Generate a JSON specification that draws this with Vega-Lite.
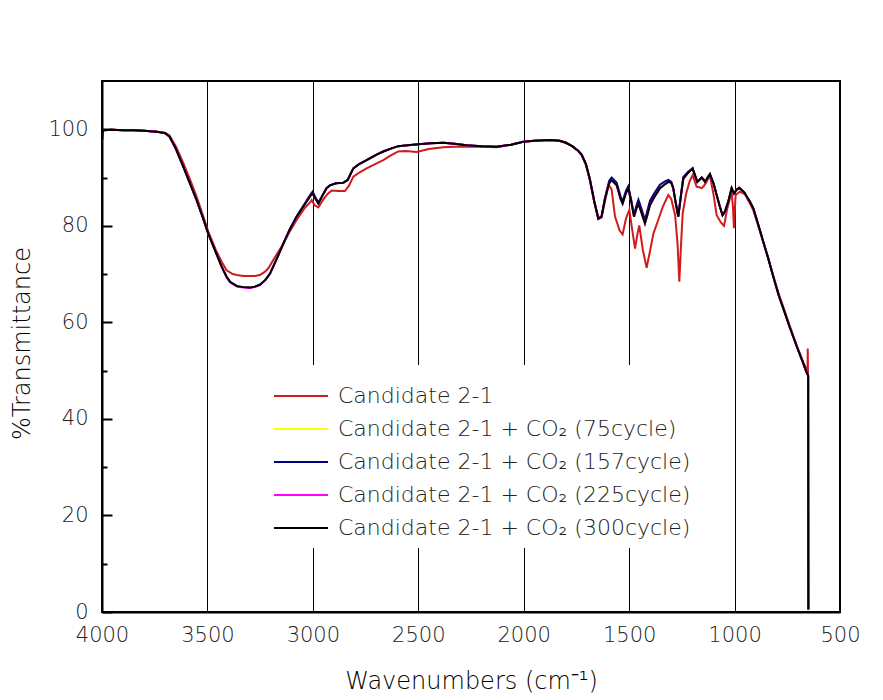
{
"$schema": "https://vega.github.io/schema/vega-lite/v6.json",
"width": 738, "height": 531,
"autosize": "none",
"padding": {"left": 102, "top": 81, "right": 43, "bottom": 88},
"background": "white",
"config": {"view": {"stroke": "black", "strokeWidth": 2}, "font": "DejaVu Sans"},
"data": {"values": [
{"w":4000,"a":97.5},{"w":3996,"a":99.8},{"w":3950,"a":99.9},{"w":3900,"a":99.8},{"w":3850,"a":99.8},{"w":3800,"a":99.7},{"w":3772,"a":99.6},{"w":3740,"a":99.5},{"w":3701,"a":99.3},{"w":3680,"a":98.7},{"w":3650,"a":96.5},{"w":3614,"a":93.0},{"w":3580,"a":89.3},{"w":3551,"a":86.0},{"w":3520,"a":82.0},{"w":3496,"a":78.8},{"w":3460,"a":75.0},{"w":3432,"a":72.5},{"w":3409,"a":70.8},{"w":3380,"a":70.0},{"w":3361,"a":69.8},{"w":3330,"a":69.6},{"w":3298,"a":69.6},{"w":3275,"a":69.6},{"w":3251,"a":69.8},{"w":3230,"a":70.4},{"w":3211,"a":71.2},{"w":3180,"a":73.5},{"w":3140,"a":76.3},{"w":3110,"a":78.8},{"w":3077,"a":81.2},{"w":3040,"a":83.6},{"w":3010,"a":85.0},{"w":3006,"a":85.3},{"w":2990,"a":84.2},{"w":2974,"a":83.8},{"w":2950,"a":85.5},{"w":2930,"a":86.6},{"w":2911,"a":87.3},{"w":2880,"a":87.2},{"w":2848,"a":87.2},{"w":2830,"a":88.2},{"w":2808,"a":90.2},{"w":2780,"a":91.0},{"w":2745,"a":91.9},{"w":2700,"a":92.9},{"w":2666,"a":93.6},{"w":2630,"a":94.6},{"w":2595,"a":95.4},{"w":2560,"a":95.5},{"w":2508,"a":95.3},{"w":2450,"a":95.9},{"w":2381,"a":96.3},{"w":2330,"a":96.4},{"w":2270,"a":96.4},{"w":2200,"a":96.4},{"w":2128,"a":96.3},{"w":2060,"a":96.8},{"w":2002,"a":97.4},{"w":1950,"a":97.6},{"w":1875,"a":97.8},{"w":1830,"a":97.6},{"w":1800,"a":97.2},{"w":1770,"a":96.5},{"w":1741,"a":95.5},{"w":1725,"a":94.7},{"w":1705,"a":92.6},{"w":1686,"a":89.4},{"w":1665,"a":84.8},{"w":1646,"a":81.4},{"w":1631,"a":81.7},{"w":1615,"a":85.0},{"w":1600,"a":88.0},{"w":1595,"a":88.4},{"w":1583,"a":87.5},{"w":1567,"a":81.9},{"w":1545,"a":79.0},{"w":1531,"a":78.2},{"w":1515,"a":81.5},{"w":1499,"a":83.3},{"w":1485,"a":79.0},{"w":1472,"a":75.3},{"w":1462,"a":78.0},{"w":1452,"a":80.1},{"w":1435,"a":75.0},{"w":1417,"a":71.3},{"w":1400,"a":75.0},{"w":1385,"a":78.4},{"w":1362,"a":81.2},{"w":1340,"a":84.0},{"w":1314,"a":86.4},{"w":1300,"a":85.5},{"w":1282,"a":82.2},{"w":1270,"a":76.0},{"w":1262,"a":68.4},{"w":1254,"a":76.0},{"w":1246,"a":82.6},{"w":1230,"a":86.6},{"w":1214,"a":89.1},{"w":1199,"a":90.5},{"w":1180,"a":88.1},{"w":1168,"a":88.0},{"w":1156,"a":87.8},{"w":1145,"a":88.3},{"w":1133,"a":89.1},{"w":1117,"a":90.5},{"w":1100,"a":86.5},{"w":1085,"a":82.2},{"w":1065,"a":80.7},{"w":1050,"a":80.0},{"w":1035,"a":83.5},{"w":1020,"a":86.0},{"w":1014,"a":87.1},{"w":1008,"a":84.0},{"w":1003,"a":79.5},{"w":998,"a":84.0},{"w":995,"a":86.4},{"w":974,"a":87.1},{"w":950,"a":86.5},{"w":927,"a":84.6},{"w":911,"a":83.2},{"w":890,"a":80.3},{"w":864,"a":76.7},{"w":840,"a":73.3},{"w":816,"a":69.6},{"w":790,"a":65.8},{"w":769,"a":63.2},{"w":740,"a":59.5},{"w":705,"a":55.2},{"w":680,"a":52.4},{"w":660,"a":50.3},{"w":654,"a":49.5},{"w":653,"a":54.6},{"w":651,"a":45.3},
{"w":4000,"b":97.5,"y":97.5,"n":97.5,"m":97.5},
{"w":3996,"b":99.8,"y":99.8,"n":99.8,"m":99.8},
{"w":3950,"b":99.9,"y":99.9,"n":99.9,"m":99.9},
{"w":3900,"b":99.8,"y":99.8,"n":99.8,"m":99.8},
{"w":3850,"b":99.8,"y":99.8,"n":99.8,"m":99.8},
{"w":3800,"b":99.7,"y":99.7,"n":99.7,"m":99.7},
{"w":3772,"b":99.6,"y":99.6,"n":99.6,"m":99.6},
{"w":3740,"b":99.5,"y":99.5,"n":99.5,"m":99.5},
{"w":3701,"b":99.2,"y":99.2,"n":99.2,"m":99.2},
{"w":3680,"b":98.5,"y":98.5,"n":98.5,"m":98.5},
{"w":3650,"b":96.0,"y":96.0,"n":96.0,"m":96.0},
{"w":3614,"b":92.2,"y":92.2,"n":92.2,"m":92.2},
{"w":3580,"b":88.5,"y":88.5,"n":88.5,"m":88.5},
{"w":3551,"b":85.3,"y":85.3,"n":85.3,"m":85.3},
{"w":3520,"b":81.5,"y":81.5,"n":81.5,"m":81.5},
{"w":3496,"b":78.4,"y":78.4,"n":78.4,"m":78.4},
{"w":3460,"b":74.5,"y":74.5,"n":74.5,"m":74.5},
{"w":3432,"b":71.5,"y":71.5,"n":71.5,"m":71.5},
{"w":3410,"b":69.5,"y":69.5,"n":69.5,"m":69.5},
{"w":3393,"b":68.4,"y":68.4,"n":68.4,"m":68.3},
{"w":3360,"b":67.5,"y":67.5,"n":67.5,"m":67.4},
{"w":3330,"b":67.3,"y":67.3,"n":67.3,"m":67.2},
{"w":3298,"b":67.2,"y":67.2,"n":67.2,"m":67.1},
{"w":3275,"b":67.4,"y":67.4,"n":67.4,"m":67.3},
{"w":3251,"b":67.8,"y":67.8,"n":67.8,"m":67.7},
{"w":3225,"b":68.8,"y":68.8,"n":68.8,"m":68.8},
{"w":3203,"b":70.1,"y":70.1,"n":70.1,"m":70.1},
{"w":3170,"b":73.3,"y":73.3,"n":73.3,"m":73.3},
{"w":3140,"b":76.3,"y":76.3,"n":76.3,"m":76.3},
{"w":3110,"b":79.2,"y":79.2,"n":79.2,"m":79.2},
{"w":3077,"b":81.9,"y":81.9,"n":82.0,"m":81.9},
{"w":3040,"b":84.3,"y":84.3,"n":84.5,"m":84.3},
{"w":3010,"b":86.3,"y":86.3,"n":86.6,"m":86.3},
{"w":3001,"b":86.7,"y":86.7,"n":87.1,"m":86.7},
{"w":2990,"b":85.8,"y":85.8,"n":86.1,"m":85.8},
{"w":2974,"b":84.6,"y":84.6,"n":84.8,"m":84.6},
{"w":2955,"b":86.2,"y":86.2,"n":86.3,"m":86.2},
{"w":2935,"b":87.8,"y":87.8,"n":87.8,"m":87.8},
{"w":2919,"b":88.4,"y":88.4,"n":88.4,"m":88.4},
{"w":2890,"b":88.8,"y":88.8,"n":88.8,"m":88.8},
{"w":2856,"b":88.9,"y":88.9,"n":88.9,"m":88.9},
{"w":2835,"b":89.5,"y":89.5,"n":89.5,"m":89.5},
{"w":2808,"b":91.9,"y":91.9,"n":91.9,"m":91.9},
{"w":2780,"b":92.8,"y":92.8,"n":92.8,"m":92.8},
{"w":2745,"b":93.6,"y":93.6,"n":93.6,"m":93.6},
{"w":2700,"b":94.7,"y":94.7,"n":94.7,"m":94.7},
{"w":2666,"b":95.4,"y":95.4,"n":95.4,"m":95.4},
{"w":2630,"b":96.0,"y":96.0,"n":96.0,"m":96.0},
{"w":2595,"b":96.5,"y":96.5,"n":96.5,"m":96.5},
{"w":2550,"b":96.7,"y":96.7,"n":96.7,"m":96.7},
{"w":2500,"b":96.9,"y":96.9,"n":96.9,"m":96.9},
{"w":2440,"b":97.1,"y":97.1,"n":97.1,"m":97.1},
{"w":2381,"b":97.2,"y":97.2,"n":97.2,"m":97.2},
{"w":2330,"b":97.0,"y":97.0,"n":97.0,"m":97.0},
{"w":2270,"b":96.7,"y":96.7,"n":96.7,"m":96.7},
{"w":2200,"b":96.5,"y":96.5,"n":96.5,"m":96.5},
{"w":2128,"b":96.4,"y":96.4,"n":96.4,"m":96.4},
{"w":2060,"b":96.8,"y":96.8,"n":96.8,"m":96.8},
{"w":2002,"b":97.4,"y":97.4,"n":97.4,"m":97.4},
{"w":1950,"b":97.6,"y":97.6,"n":97.6,"m":97.6},
{"w":1875,"b":97.8,"y":97.8,"n":97.8,"m":97.8},
{"w":1830,"b":97.6,"y":97.6,"n":97.6,"m":97.6},
{"w":1800,"b":97.2,"y":97.2,"n":97.2,"m":97.2},
{"w":1770,"b":96.5,"y":96.5,"n":96.5,"m":96.5},
{"w":1741,"b":95.5,"y":95.5,"n":95.5,"m":95.5},
{"w":1725,"b":94.7,"y":94.7,"n":94.7,"m":94.7},
{"w":1705,"b":92.8,"y":92.8,"n":92.8,"m":92.8},
{"w":1686,"b":89.6,"y":89.6,"n":89.6,"m":89.6},
{"w":1665,"b":85.0,"y":85.0,"n":85.0,"m":85.0},
{"w":1646,"b":81.5,"y":81.5,"n":81.5,"m":81.5},
{"w":1631,"b":81.9,"y":81.9,"n":81.9,"m":81.9},
{"w":1615,"b":85.5,"y":85.5,"n":85.7,"m":85.5},
{"w":1595,"b":88.8,"y":88.8,"n":89.3,"m":88.8},
{"w":1583,"b":89.5,"y":89.5,"n":90.0,"m":89.5},
{"w":1559,"b":88.4,"y":88.4,"n":88.9,"m":88.4},
{"w":1540,"b":85.5,"y":85.5,"n":86.0,"m":85.5},
{"w":1531,"b":84.6,"y":84.6,"n":85.1,"m":84.6},
{"w":1515,"b":86.8,"y":86.8,"n":87.3,"m":86.8},
{"w":1504,"b":87.8,"y":87.8,"n":88.2,"m":87.8},
{"w":1490,"b":85.0,"y":85.0,"n":85.3,"m":85.0},
{"w":1477,"b":81.9,"y":81.9,"n":82.3,"m":81.9},
{"w":1466,"b":83.5,"y":83.5,"n":84.1,"m":83.5},
{"w":1456,"b":84.6,"y":84.6,"n":85.4,"m":84.6},
{"w":1440,"b":82.5,"y":82.5,"n":83.3,"m":82.5},
{"w":1425,"b":80.5,"y":80.5,"n":81.2,"m":80.5},
{"w":1412,"b":82.5,"y":82.5,"n":83.4,"m":82.5},
{"w":1401,"b":84.3,"y":84.3,"n":85.2,"m":84.3},
{"w":1380,"b":86.0,"y":86.0,"n":86.8,"m":86.0},
{"w":1354,"b":87.8,"y":87.8,"n":88.5,"m":87.8},
{"w":1330,"b":88.6,"y":88.6,"n":89.2,"m":88.6},
{"w":1314,"b":89.1,"y":89.1,"n":89.5,"m":89.1},
{"w":1300,"b":88.9,"y":88.9,"n":89.1,"m":88.9},
{"w":1291,"b":87.8,"y":87.8,"n":87.9,"m":87.8},
{"w":1280,"b":85.0,"y":85.0,"n":85.0,"m":85.0},
{"w":1267,"b":81.9,"y":81.9,"n":81.9,"m":81.9},
{"w":1255,"b":86.0,"y":86.0,"n":86.2,"m":86.0},
{"w":1243,"b":89.8,"y":89.8,"n":90.1,"m":89.8},
{"w":1220,"b":91.0,"y":91.0,"n":91.2,"m":91.0},
{"w":1199,"b":91.9,"y":91.9,"n":91.9,"m":91.9},
{"w":1188,"b":90.5,"y":90.5,"n":90.5,"m":90.5},
{"w":1177,"b":89.1,"y":89.1,"n":89.1,"m":89.1},
{"w":1165,"b":89.6,"y":89.6,"n":89.6,"m":89.6},
{"w":1156,"b":90.0,"y":90.0,"n":90.0,"m":90.0},
{"w":1148,"b":89.6,"y":89.6,"n":89.6,"m":89.6},
{"w":1140,"b":89.1,"y":89.1,"n":89.1,"m":89.1},
{"w":1128,"b":90.0,"y":90.0,"n":90.0,"m":90.0},
{"w":1117,"b":90.7,"y":90.7,"n":90.7,"m":90.7},
{"w":1100,"b":88.8,"y":88.8,"n":88.8,"m":88.8},
{"w":1085,"b":86.4,"y":86.4,"n":86.4,"m":86.4},
{"w":1070,"b":84.0,"y":84.0,"n":84.0,"m":84.0},
{"w":1057,"b":82.2,"y":82.2,"n":82.2,"m":82.2},
{"w":1045,"b":83.0,"y":83.0,"n":83.0,"m":83.0},
{"w":1030,"b":85.0,"y":85.0,"n":85.0,"m":85.0},
{"w":1014,"b":87.8,"y":87.8,"n":87.8,"m":87.8},
{"w":1003,"b":86.7,"y":86.7,"n":86.7,"m":86.7},
{"w":990,"b":87.5,"y":87.5,"n":87.5,"m":87.5},
{"w":978,"b":87.9,"y":87.9,"n":87.9,"m":87.9},
{"w":955,"b":87.0,"y":87.0,"n":87.0,"m":87.0},
{"w":927,"b":85.0,"y":85.0,"n":85.0,"m":85.0},
{"w":911,"b":83.6,"y":83.6,"n":83.6,"m":83.6},
{"w":890,"b":80.6,"y":80.6,"n":80.6,"m":80.6},
{"w":864,"b":76.7,"y":76.7,"n":76.7,"m":76.7},
{"w":840,"b":73.2,"y":73.2,"n":73.2,"m":73.2},
{"w":816,"b":69.4,"y":69.4,"n":69.4,"m":69.4},
{"w":790,"b":65.5,"y":65.5,"n":65.5,"m":65.5},
{"w":769,"b":62.9,"y":62.9,"n":62.9,"m":62.9},
{"w":740,"b":59.2,"y":59.2,"n":59.2,"m":59.2},
{"w":705,"b":55.0,"y":55.0,"n":55.0,"m":55.0},
{"w":680,"b":52.2,"y":52.2,"n":52.2,"m":52.2},
{"w":660,"b":49.8,"y":49.8,"n":49.8,"m":49.8},
{"w":651,"b":49.0,"y":49.0,"n":49.0,"m":49.0},
{"w":650,"b":0.5,"y":0.5,"n":0.5,"m":0.5}
]},
"transform": [
  {"fold": ["a", "y", "n", "m", "b"], "as": ["k", "t"]},
  {"filter": "isValid(datum.t)"}
],
"mark": {"type": "line", "strokeWidth": 2, "clip": true},
"encoding": {
  "x": {"field": "w", "type": "quantitative",
    "scale": {"domain": [4000, 500], "nice": false, "zero": false},
    "axis": {"title": "Wavenumbers (cm⁻¹)", "values": [4000, 3500, 3000, 2500, 2000, 1500, 1000, 500], "format": "d",
      "grid": true, "gridColor": "black", "gridWidth": 1, "gridOpacity": 1,
      "ticks": false, "labelPadding": 12, "labelFontSize": 21, "labelColor": "#222222", "labelFontWeight": 200,
      "labelFlush": false, "labelOverlap": false,
      "domainColor": "black", "domainWidth": 2,
      "titleFontSize": 24, "titleFontWeight": 200, "titleColor": "black", "titlePadding": 24}},
  "y": {"field": "t", "type": "quantitative",
    "scale": {"domain": [0, 110], "nice": false},
    "axis": {"title": "%Transmittance", "values": [0, 10, 20, 30, 40, 50, 60, 70, 80, 90, 100],
      "grid": false,
      "tickSize": {"condition": {"test": "datum.value % 20 !== 0", "value": -5}, "value": -10},
      "tickColor": "black", "tickWidth": 2,
      "labelExpr": "datum.value % 20 === 0 ? datum.label : ''",
      "labelPadding": 24, "labelFontSize": 21, "labelColor": "#222222", "labelFontWeight": 200,
      "labelFlush": false, "labelOverlap": false,
      "domainColor": "black", "domainWidth": 2,
      "titleFontSize": 24, "titleFontWeight": 200, "titleColor": "black",
      "titleX": -80, "titleY": 262, "titleAngle": -90, "titleAlign": "center", "titleBaseline": "middle"}},
  "color": {"field": "k", "type": "nominal",
    "scale": {"domain": ["a", "y", "n", "m", "b"], "range": ["#d01c1c", "#ffff00", "#000080", "#ff00ff", "#000000"]},
    "legend": {"orient": "none", "legendX": 160, "legendY": 284, "title": null,
      "fillColor": "white", "padding": 9,
      "symbolType": "M-1.286,0H1.286", "symbolSize": 1764, "symbolStrokeWidth": 2, "symbolOffset": 8,
      "labelFontSize": 22, "labelFontWeight": 200, "labelColor": "#222222", "labelOffset": 15, "labelLimit": 0,
      "rowPadding": 0,
      "labelExpr": "datum.label === 'a' ? 'Candidate 2-1' : datum.label === 'y' ? 'Candidate 2-1 + CO₂ (75cycle)' : datum.label === 'n' ? 'Candidate 2-1 + CO₂ (157cycle)' : datum.label === 'm' ? 'Candidate 2-1 + CO₂ (225cycle)' : 'Candidate 2-1 + CO₂ (300cycle)'"}}
}
}
